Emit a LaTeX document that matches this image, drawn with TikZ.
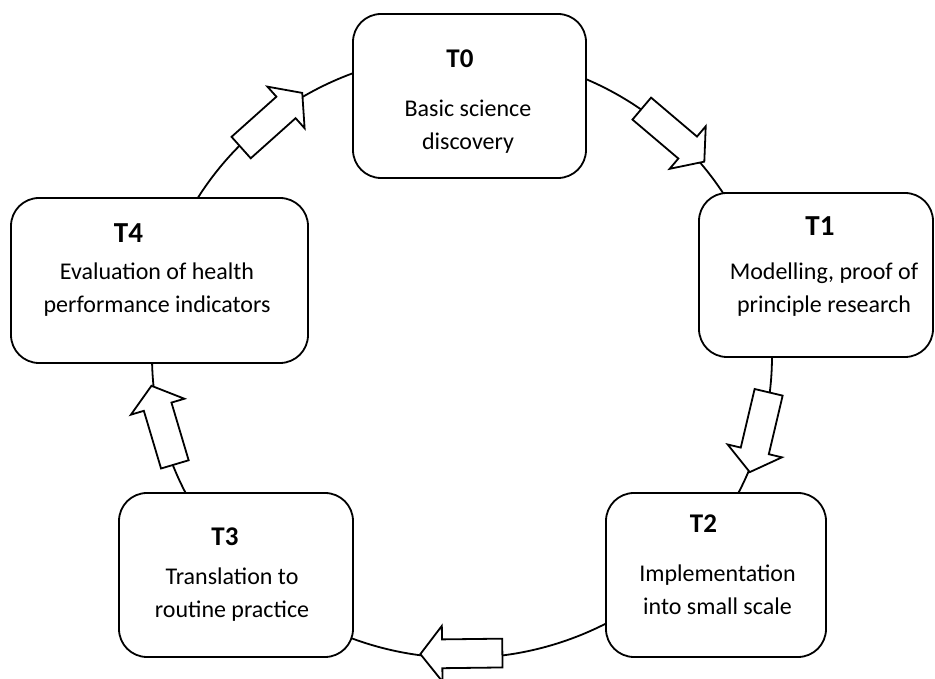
\documentclass[tikz,border=0pt]{standalone}
\usepackage{fontspec}
\setmainfont{Carlito}
\usetikzlibrary{shapes.arrows}
\tikzstyle{stage}=[
        draw,
        line width = 1.8pt,
        fill = white,
        rounded corners = 28pt,
        inner sep = 0pt
    ]
\tikzstyle{flow}=[
    draw,
    line width = 1.8pt,
    fill = white,
    single arrow,
    minimum height = 82pt,
    single arrow head extend = 13.5pt,
    single arrow tip angle = 104,
    inner xsep = 0pt,
    inner ysep = 13.5pt
]
\tikzstyle{title}=[anchor = base, font = \fontsize{29}{33}\selectfont\bfseries]
\tikzstyle{small title}=[anchor = base, font = \fontsize{27}{33}\selectfont\bfseries]
\tikzstyle{body}=[anchor = base, align = center]

\begin{document}
\begin{tikzpicture}[x = 1pt, y = 1pt, font = \fontsize{24}{33}\selectfont]
        \useasboundingbox (0,0) rectangle (935,679);
        % the cycle runs behind the boxes
        \draw[line width = 1.8pt] (462,323) ellipse [x radius = 310, y radius = 302];

        \node[flow, rotate = 41.8] (a40) at (267.5,555) {};
        \node[flow, rotate = -40.3] (a01) at (668.75,547.5) {};
        \node[flow, rotate = -103.3] (a12) at (760.5,252.25) {};
        \node[flow, rotate = 180.7] (a23) at (467,25.5) {};
        \node[flow, rotate = 106.6] (a34) at (164.75,248.5) {};

        \node[stage, minimum width = 233pt, minimum height = 164pt] (t0) at (469.5,583) {};
        \node[stage, minimum width = 234pt, minimum height = 164pt] (t1) at (816,404) {};
        \node[stage, minimum width = 220pt, minimum height = 164pt] (t2) at (716,104) {};
        \node[stage, minimum width = 234pt, minimum height = 164pt] (t3) at (236,104) {};
        \node[stage, minimum width = 297pt, minimum height = 165pt] (t4) at (159.5,398.5) {};

        % body nodes sit on the baseline of their last line
        \node[small title] (t0 title) at (460,611) {T0};
        \node[body] (t0 text) at (468,529) {Basic science\\discovery};
        \node[title] (t1 title) at (820,443) {T1};
        \node[body] (t1 text) at (824,366) {Modelling, proof of\\principle research};
        \node[small title] (t2 title) at (703.5,146) {T2};
        \node[body] (t2 text) at (717.5,64) {Implementation\\into small scale};
        \node[small title] (t3 title) at (225,133) {T3};
        \node[body] (t3 text) at (232,61) {Translation to\\routine practice};
        \node[title] (t4 title) at (128.5,436) {T4};
        \node[body] (t4 text) at (157,366) {Evaluation of health\\performance indicators};

    \end{tikzpicture}
\end{document}
